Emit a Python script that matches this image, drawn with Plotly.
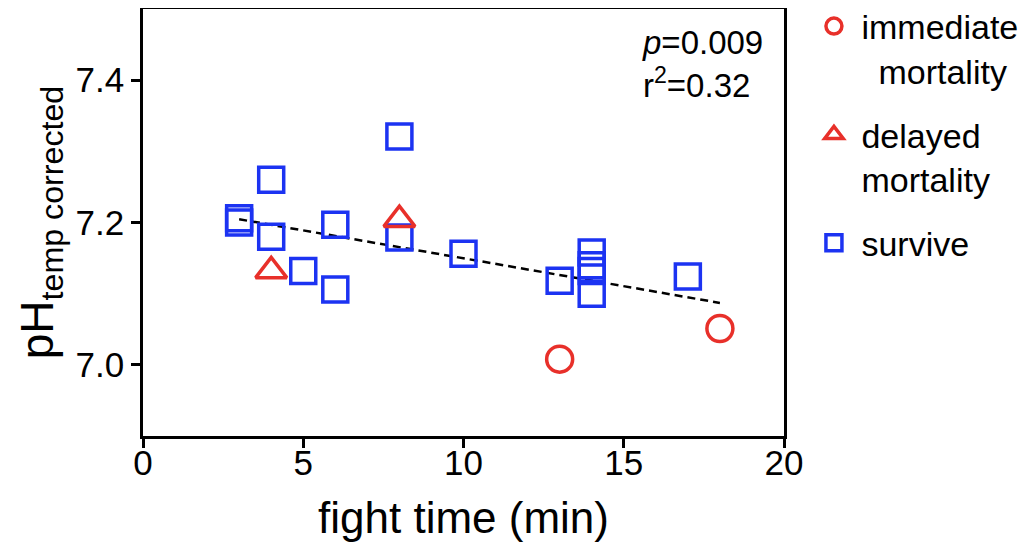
import numpy as np
import plotly.graph_objects as go

# fight time (min) and temperature-corrected pH, by outcome
immediate_time = [13, 18]
immediate_ph = [7.008, 7.051]

delayed_time = [4, 8]
delayed_ph = [7.132, 7.204]

survive_time = [3, 3, 4, 4, 5, 6, 6, 8, 8, 10, 13, 14, 14, 14, 14, 17]
survive_ph = [7.206, 7.200, 7.260, 7.180, 7.132, 7.197, 7.106, 7.321, 7.179,
              7.156, 7.118, 7.158, 7.140, 7.132, 7.100, 7.124]

stats_text = "<i>p</i>=0.009<br>r<sup>2</sup>=0.32"

RED = "#e8302a"
BLUE = "#1c33f2"
FONT = "Arial, Liberation Sans, sans-serif"

# linear fit over all fish
all_t = np.array(immediate_time + delayed_time + survive_time, dtype=float)
all_ph = np.array(immediate_ph + delayed_ph + survive_ph)
slope, intercept = np.polyfit(all_t, all_ph, 1)
fit_x = np.array([all_t.min(), all_t.max()])
fit_y = intercept + slope * fit_x

fig = go.Figure()
fig.add_trace(go.Scatter(x=fit_x, y=fit_y, mode="lines", showlegend=False,
                         line=dict(color="black", width=2.5, dash="8px,5px"),
                         hoverinfo="skip"))
fig.add_trace(go.Scatter(x=survive_time, y=survive_ph, mode="markers", name="survive",
                         legendgroup="c", legendrank=3,
                         marker=dict(symbol="square-open", size=25, color=BLUE,
                                     line=dict(width=3.5, color=BLUE))))
fig.add_trace(go.Scatter(x=delayed_time, y=delayed_ph, mode="markers",
                         name="delayed<br>mortality", legendgroup="b", legendrank=2,
                         marker=dict(symbol="triangle-up-open", size=27, color=RED,
                                     line=dict(width=3.5, color=RED))))
fig.add_trace(go.Scatter(x=immediate_time, y=immediate_ph, mode="markers",
                         name="immediate<br>\u2002mortality", legendgroup="a", legendrank=1,
                         marker=dict(symbol="circle-open", size=26, color=RED,
                                     line=dict(width=3.5, color=RED))))

axis_common = dict(
    showline=True, linecolor="black", linewidth=2.5, mirror=True,
    ticks="outside", ticklen=9, tickwidth=2.5, tickcolor="black",
    showgrid=False, zeroline=False, automargin=False,
    tickfont=dict(size=35, color="black", family=FONT),
)

# page body adds an 8px offset, so the figure is sized to fit the window
fig.update_layout(
    width=1021, height=542,
    margin=dict(l=135, r=245, t=1, b=114, autoexpand=False),
    paper_bgcolor="white", plot_bgcolor="white",
    font=dict(family=FONT, color="black"),
    xaxis=dict(range=[0, 20], tickvals=[0, 5, 10, 15, 20], ticklabelstandoff=-15,
               title=dict(text="fight time (min)", font=dict(size=44), standoff=22),
               **axis_common),
    yaxis=dict(range=[6.9, 7.5], tickvals=[7.0, 7.2, 7.4], tickformat=".1f",
               title=dict(text="pH<sub>temp corrected</sub>", font=dict(size=46), standoff=8),
               **axis_common),
    legend=dict(x=1.035, xanchor="left", y=1.027, yanchor="top", valign="top",
                itemwidth=45,
                font=dict(size=34, color="black"), tracegroupgap=17,
                bgcolor="rgba(0,0,0,0)"),
    annotations=[dict(text=stats_text, xref="paper", yref="paper", x=0.775, y=0.97,
                      xanchor="left", yanchor="top", align="left", showarrow=False,
                      font=dict(size=33, color="black"))],
)

fig.write_html("out.html")
